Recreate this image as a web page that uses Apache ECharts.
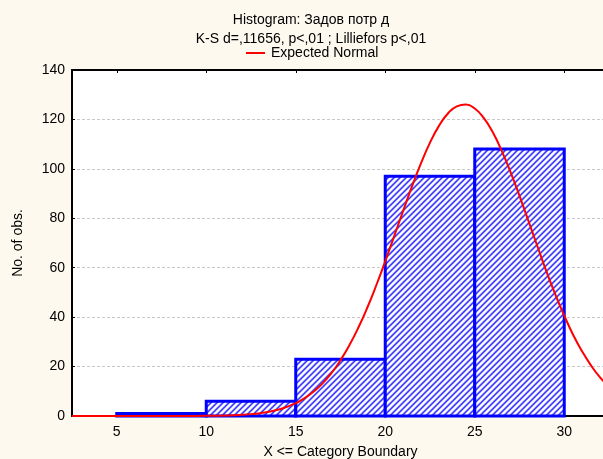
<!DOCTYPE html>
<html>
<head>
<meta charset="utf-8">
<script src="https://cdn.jsdelivr.net/npm/echarts@6/dist/echarts.min.js"></script>
<style>
html,body{margin:0;padding:0;background:#fdf9ee;}
#chart{width:603px;height:459px;}
</style>
</head>
<body>
<div id="chart"></div>
<script>
// ---- data ----
const binStart = [5, 10, 15, 20, 25];
const binEnd = [10, 15, 20, 25, 30];
const counts = [1, 6, 23, 97, 108];
const xTicks = [5, 10, 15, 20, 25, 30];
const normalX = [2.5,3,4,5,6,7,8,9,9.5,10,10.5,11,11.5,12,12.5,13,13.5,14,14.5,15,15.5,16,16.5,17,17.5,18,18.5,19,19.5,20,20.5,21,21.5,22,22.5,23,23.5,24,24.5,25,25.5,26,26.5,27,27.5,28,28.5,29,29.5,30,30.5,31,31.5,32,32.5];
const normalY = [0,0,0,0,0,0,0,0.01,0.04,0.07,0.12,0.19,0.31,0.49,0.76,1.15,1.72,2.5,3.7,5.2,7.2,9.9,13.2,17.4,22.6,28.7,35.8,43.9,52.9,62.6,72.8,83.0,93.0,102.3,110.6,117.4,122.4,125.3,126.0,124.4,120.6,114.9,107.4,98.7,89.1,78.9,68.7,58.6,49.2,40.6,32.8,26.1,20.4,15.6,11.8];

// hatch pattern
const pc = document.createElement('canvas');
const P = 6;
pc.width = P; pc.height = P;
const pctx = pc.getContext('2d');
const img = pctx.createImageData(P, P);
for (let y = 0; y < P; y++) {
  for (let x = 0; x < P; x++) {
    const k = (x + y) % P;
    let c;
    if (k === 0) c = [95, 95, 255];
    else if (k === 1) c = [60, 60, 250];
    else if (k === 2) c = [170, 170, 255];
    else if (k === 5) c = [215, 215, 255];
    else c = [255, 255, 255];
    const i = (y * P + x) * 4;
    img.data[i] = c[0]; img.data[i+1] = c[1]; img.data[i+2] = c[2]; img.data[i+3] = 255;
  }
}
pctx.putImageData(img, 0, 0);

const histData = binStart.map((s, i) => [s, binEnd[i], counts[i]]);
const curveData = normalX.map((x, i) => [x, normalY[i]]);

const chart = echarts.init(document.getElementById('chart'));
const font = 'Arial, "Liberation Sans", sans-serif';
chart.setOption({
  backgroundColor: '#fdf9ee',
  animation: false,
  textStyle: { fontFamily: font },
  title: {
    text: 'Histogram: Задов потр д',
    subtext: 'K-S d=,11656, p<,01 ; Lilliefors p<,01',
    left: 311, top: 12, textAlign: 'center', itemGap: 3, padding: 0,
    textStyle: { fontSize: 14, fontWeight: 'normal', color: '#000', fontFamily: font, lineHeight: 16 },
    subtextStyle: { fontSize: 14, color: '#000', fontFamily: font, lineHeight: 16 }
  },
  legend: {
    data: ['Expected Normal'],
    left: 246, top: 46, padding: 0,
    itemWidth: 19, itemHeight: 2, itemGap: 6,
    icon: 'rect',
    textStyle: { fontSize: 14, color: '#000', fontFamily: font, padding: [0, 0, 0, 1] }
  },
  grid: { left: 72, top: 70, width: 537, height: 346, show: true, backgroundColor: '#ffffff', borderWidth: 0, outerBoundsMode: 'none', containLabel: false },
  xAxis: [{
    type: 'value', min: 2.5, max: 32.5, position: 'bottom',
    name: 'X <= Category Boundary', nameLocation: 'middle', nameGap: 29,
    nameTextStyle: { fontSize: 14, color: '#000', fontFamily: font },
    axisLine: { show: true, onZero: false, lineStyle: { color: '#000', width: 2 } },
    axisTick: { show: true, inside: true, length: 3, customValues: xTicks, lineStyle: { color: '#000' } },
    axisLabel: { customValues: xTicks, fontSize: 14, color: '#000', margin: 9, fontFamily: font },
    splitLine: { show: false }
  }, {
    type: 'value', min: 2.5, max: 32.5, position: 'top',
    axisLine: { show: true, onZero: false, lineStyle: { color: '#000', width: 2 } },
    axisTick: { show: true, inside: true, length: 3, customValues: xTicks, lineStyle: { color: '#000' } },
    axisLabel: { show: false },
    splitLine: { show: false }
  }],
  yAxis: {
    type: 'value', min: 0, max: 140, interval: 20,
    name: 'No. of obs.', nameLocation: 'middle', nameGap: 47,
    nameTextStyle: { fontSize: 14, color: '#000', fontFamily: font },
    axisLine: { show: true, lineStyle: { color: '#000', width: 2 } },
    axisTick: { show: true, inside: true, length: 3, lineStyle: { color: '#000' } },
    axisLabel: { fontSize: 14, color: '#000', margin: 7, fontFamily: font },
    splitLine: { show: true, lineStyle: { color: '#c8c8c8', type: [3, 2], width: 1 } }
  },
  series: [{
    type: 'custom',
    name: 'Histogram',
    xAxisIndex: 0,
    data: histData,
    renderItem: function (params, api) {
      const p0 = api.coord([api.value(0), api.value(2)]);
      const p1 = api.coord([api.value(1), 0]);
      return {
        type: 'rect',
        shape: { x: p0[0], y: p0[1], width: p1[0] - p0[0], height: p1[1] - p0[1] },
        style: {
          fill: { image: pc, repeat: 'repeat' },
          stroke: '#0000ff', lineWidth: 3
        }
      };
    },
    encode: { x: [0, 1], y: 2 },
    z: 2
  }, {
    type: 'line',
    name: 'Expected Normal',
    xAxisIndex: 0,
    data: curveData,
    smooth: true,
    showSymbol: false,
    symbol: 'none',
    clip: true,
    color: '#ff0000',
    lineStyle: { color: '#ff0000', width: 2 },
    z: 3
  }]
});
</script>
</body>
</html>
